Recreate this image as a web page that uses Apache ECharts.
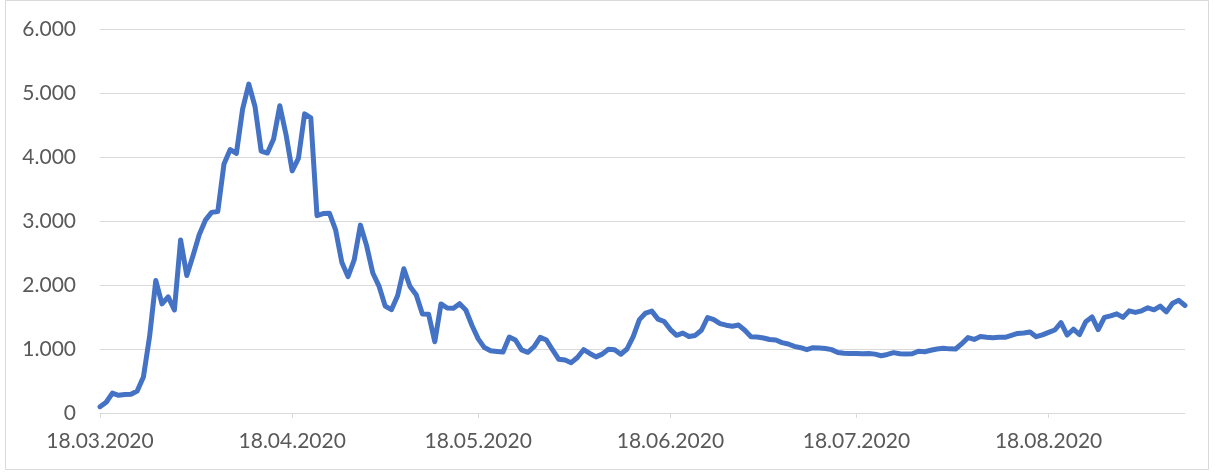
<!DOCTYPE html>
<html>
<head>
<meta charset="utf-8">
<script src="https://cdn.jsdelivr.net/npm/echarts@6/dist/echarts.min.js"></script>
<style>
html,body{margin:0;padding:0;background:#fff;}
#chart{width:1215px;height:474px;}
</style>
</head>
<body>
<div id="chart"></div>
<script>
// Daily values from 18.03.2020 onward (one per day)
const START_DATE = [2020, 3, 18];
const values = [
  98, 168, 311, 277, 289, 293, 343, 561, 1196, 2069,
  1704, 1815, 1610, 2704, 2148, 2456, 2786, 3013, 3135, 3148,
  3892, 4117, 4056, 4747, 5138, 4789, 4093, 4062, 4281, 4801,
  4353, 3783, 3977, 4674, 4611, 3083, 3116, 3122, 2861, 2357,
  2131, 2392, 2936, 2615, 2188, 1983, 1670, 1614, 1832, 2253,
  1977, 1848, 1546, 1542, 1114, 1704, 1641, 1635, 1708, 1610,
  1368, 1158, 1022, 972, 961, 952, 1186, 1141, 987, 948,
  1035, 1182, 1141, 985, 839, 827, 786, 867, 989, 930,
  877, 920, 995, 989, 918, 1000, 1195, 1459, 1562, 1592,
  1467, 1429, 1304, 1214, 1248, 1195, 1212, 1293, 1492, 1458,
  1396, 1372, 1356, 1374, 1293, 1192, 1186, 1172, 1148, 1140,
  1100, 1078, 1041, 1020, 990, 1020, 1016, 1008, 990, 945,
  932, 930, 930, 926, 930, 920, 895, 915, 943, 925,
  922, 925, 965, 958, 980, 1000, 1010, 1002, 1000, 1083,
  1178, 1150, 1195, 1183, 1176, 1185, 1183, 1212, 1243, 1250,
  1266, 1192, 1220, 1260, 1297, 1412, 1218, 1309, 1226, 1427,
  1502, 1303, 1494, 1517, 1549, 1494, 1596, 1572, 1596, 1643,
  1612, 1671, 1580, 1716, 1761, 1680
];
const tickLabels = ['18.03.2020', '18.04.2020', '18.05.2020', '18.06.2020', '18.07.2020', '18.08.2020'];
const yMin = 0, yMax = 6000, yStep = 1000;

// Build daily category labels dd.mm.yyyy
function pad(n){ return (n < 10 ? '0' : '') + n; }
const categories = values.map((v, i) => {
  const d = new Date(Date.UTC(START_DATE[0], START_DATE[1] - 1, START_DATE[2] + i));
  return pad(d.getUTCDate()) + '.' + pad(d.getUTCMonth() + 1) + '.' + d.getUTCFullYear();
});

function fmtThousands(v){
  return String(v).replace(/\B(?=(\d{3})+(?!\d))/g, '.');
}

const chart = echarts.init(document.getElementById('chart'), null, {renderer: 'canvas'});
const FONT = 'Lato, "Open Sans", sans-serif';
chart.setOption({
  animation: false,
  backgroundColor: '#ffffff',
  graphic: [{
    type: 'rect',
    shape: {x: 5.5, y: 0.5, width: 1203, height: 469},
    style: {fill: 'none', stroke: '#d9d9d9', lineWidth: 1},
    silent: true
  }],
  grid: {left: 100, right: 30, top: 29, bottom: 61, containLabel: false},
  xAxis: {
    type: 'category',
    data: categories,
    boundaryGap: false,
    axisLine: {show: true, lineStyle: {color: '#d9d9d9', width: 1}},
    axisTick: {
      show: true, length: 5,
      interval: (idx, val) => tickLabels.indexOf(val) >= 0,
      lineStyle: {color: '#d9d9d9', width: 1}
    },
    axisLabel: {
      show: true,
      interval: (idx, val) => tickLabels.indexOf(val) >= 0,
      color: '#595959', fontFamily: FONT, fontSize: 21, margin: 18
    },
    splitLine: {show: false}
  },
  yAxis: {
    type: 'value',
    min: yMin, max: yMax, interval: yStep,
    axisLine: {show: false},
    axisTick: {show: false},
    axisLabel: {
      color: '#595959', fontFamily: FONT, fontSize: 21, margin: 24,
      formatter: fmtThousands
    },
    splitLine: {show: true, lineStyle: {color: '#d9d9d9', width: 1}}
  },
  series: [{
    type: 'line',
    data: values,
    showSymbol: false,
    symbol: 'none',
    smooth: false,
    lineStyle: {color: '#4472c4', width: 5, join: 'round', cap: 'round'},
    itemStyle: {color: '#4472c4'}
  }]
});
</script>
</body>
</html>
